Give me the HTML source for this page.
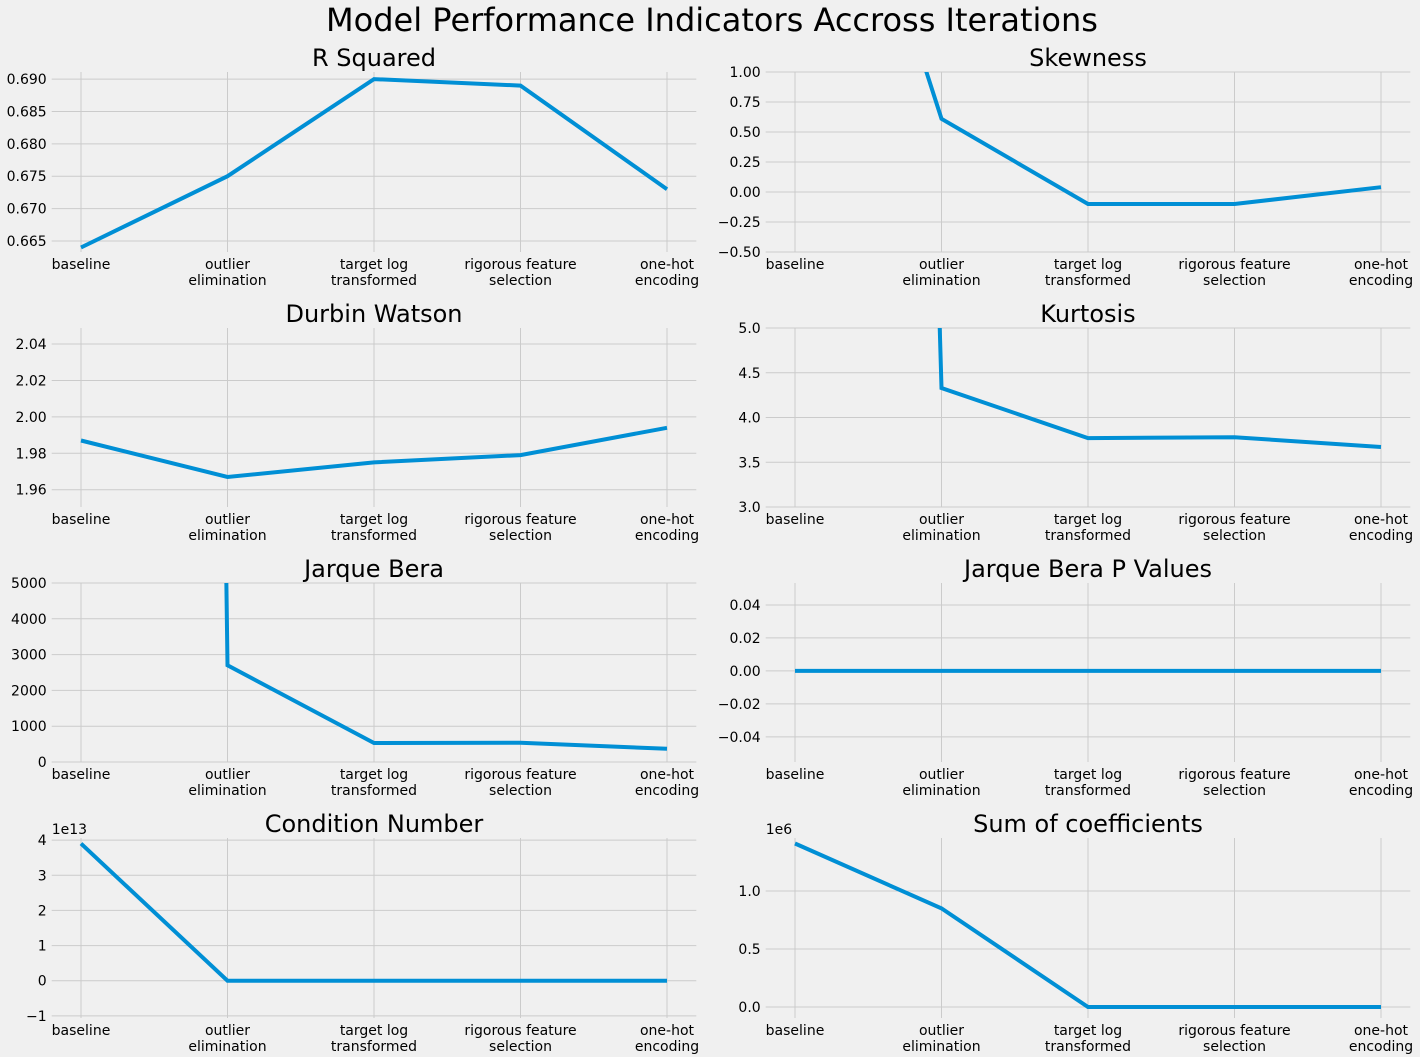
<!DOCTYPE html>
<html><head><meta charset="utf-8"><style>
body{margin:0;background:#f0f0f0;}
svg{display:block;font-family:"DejaVu Sans","Liberation Sans",sans-serif;}
</style></head><body>
<svg id="fig" width="1420" height="1057" viewBox="0 0 1420 1057" xmlns="http://www.w3.org/2000/svg">
<rect width="1420" height="1057" fill="#f0f0f0"/>
<text x="712" y="31" font-size="32" text-anchor="middle" fill="#000">Model Performance Indicators Accross Iterations</text>
</svg>
<script>
const categories = [["baseline"],["outlier","elimination"],["target log","transformed"],["rigorous feature","selection"],["one-hot","encoding"]];
const rSquared = [0.664,0.675,0.690,0.689,0.673];
const skewness = [4.4,0.61,-0.10,-0.10,0.04];
const durbinWatson = [1.987,1.967,1.975,1.979,1.994];
const kurtosis = [60,4.33,3.77,3.78,3.67];
const jarqueBera = [300000,2700,530,540,370];
const jbPValues = [0,0,0,0,0];
const conditionNumber = [3.9,0.0,0.0,0.0,0.0];
const sumCoefficients = [1.41,0.85,0.0,0.0,0.0];
const rTicks = ["0.665","0.670","0.675","0.680","0.685","0.690"];
const skewTicks = ["−0.50","−0.25","0.00","0.25","0.50","0.75","1.00"];
const dwTicks = ["1.96","1.98","2.00","2.02","2.04"];
const kurtTicks = ["3.0","3.5","4.0","4.5","5.0"];
const jbTicks = ["0","1000","2000","3000","4000","5000"];
const pTicks = ["−0.04","−0.02","0.00","0.02","0.04"];
const condTicks = ["−1","0","1","2","3","4"];
const sumTicks = ["0.0","0.5","1.0"];

const NS="http://www.w3.org/2000/svg";
const svg=document.getElementById('fig');
function mk(tag,attrs,parent){const e=document.createElementNS(NS,tag);for(const k in attrs)e.setAttribute(k,attrs[k]);(parent||svg).appendChild(e);return e;}
function num(s){return parseFloat(s.replace('−','-'));}

const panels=[
 {title:"R Squared",name:"r-squared",col:0,row:0,data:rSquared,ticks:rTicks,ymin:0.6633,ymax:0.6911},
 {title:"Skewness",name:"skewness",col:1,row:0,data:skewness,ticks:skewTicks,ymin:-0.5,ymax:1.0},
 {title:"Durbin Watson",name:"durbin-watson",col:0,row:1,data:durbinWatson,ticks:dwTicks,ymin:1.9505,ymax:2.0488},
 {title:"Kurtosis",name:"kurtosis",col:1,row:1,data:kurtosis,ticks:kurtTicks,ymin:3.0,ymax:5.0},
 {title:"Jarque Bera",name:"jarque-bera",col:0,row:2,data:jarqueBera,ticks:jbTicks,ymin:0,ymax:5000},
 {title:"Jarque Bera P Values",name:"jarque-bera-p-values",col:1,row:2,data:jbPValues,ticks:pTicks,ymin:-0.0552,ymax:0.0533},
 {title:"Condition Number",name:"condition-number",col:0,row:3,data:conditionNumber,ticks:condTicks,ymin:-1.06,ymax:4.06,offset:"1e13"},
 {title:"Sum of coefficients",name:"sum-of-coefficients",col:1,row:3,data:sumCoefficients,ticks:sumTicks,ymin:-0.095,ymax:1.457,offset:"1e6"}
];
const colX=[[51.7,696.3],[765.7,1410.3]];
const rowY=[[72,252],[328,507],[583,762],[838,1018]];
let cid=0;
panels.forEach(p=>{
 const [x0,x1]=colX[p.col],[y0,y1]=rowY[p.row];
 const xs=i=>x0+(x1-x0)*(i+0.2)/4.4;
 const ys=v=>y1-(v-p.ymin)/(p.ymax-p.ymin)*(y1-y0);
 const g=mk('g',{});
 
 
 const cp=mk('clipPath',{id:'c'+(++cid)},g);
 mk('rect',{x:x0,y:y0,width:x1-x0,height:y1-y0},cp);
 categories.forEach((c,i)=>{
  const gl=mk('line',{x1:xs(i),x2:xs(i),y1:y0,y2:y1,stroke:'#cbcbcb','stroke-width':1},g);
  
  
  const t=mk('text',{x:xs(i),y:y1+17,'font-size':14,'text-anchor':'middle',fill:'#000'},g);
  
  
  c.forEach((s,j)=>{const ts=mk('tspan',{x:xs(i),dy:j?16:0},t);ts.textContent=s;});
 });
 p.ticks.forEach(s=>{
  const y=ys(num(s));
  const gl=mk('line',{x1:x0,x2:x1,y1:y,y2:y,stroke:'#cbcbcb','stroke-width':1},g);
  
  
  const t=mk('text',{x:x0-5,y:y+5,'font-size':14,'text-anchor':'end',fill:'#000'},g);
  
  
  t.textContent=s;
 });
 const pts=p.data.map((v,i)=>xs(i).toFixed(1)+','+ys(v).toFixed(1)).join(' ');
 const ln=mk('polyline',{points:pts,fill:'none',stroke:'#008fd5','stroke-width':4,'clip-path':'url(#c'+cid+')'},g);
 
 
 const tt=mk('text',{x:(x0+x1)/2,y:y0-6,'font-size':24,'text-anchor':'middle',fill:'#000'},g);
 
 
 tt.textContent=p.title;
 if(p.offset){
  const o=mk('text',{x:x0,y:y0-4,'font-size':14,fill:'#000'},g);
  
  
  o.textContent=p.offset;
 }
});
</script>
</body></html>
